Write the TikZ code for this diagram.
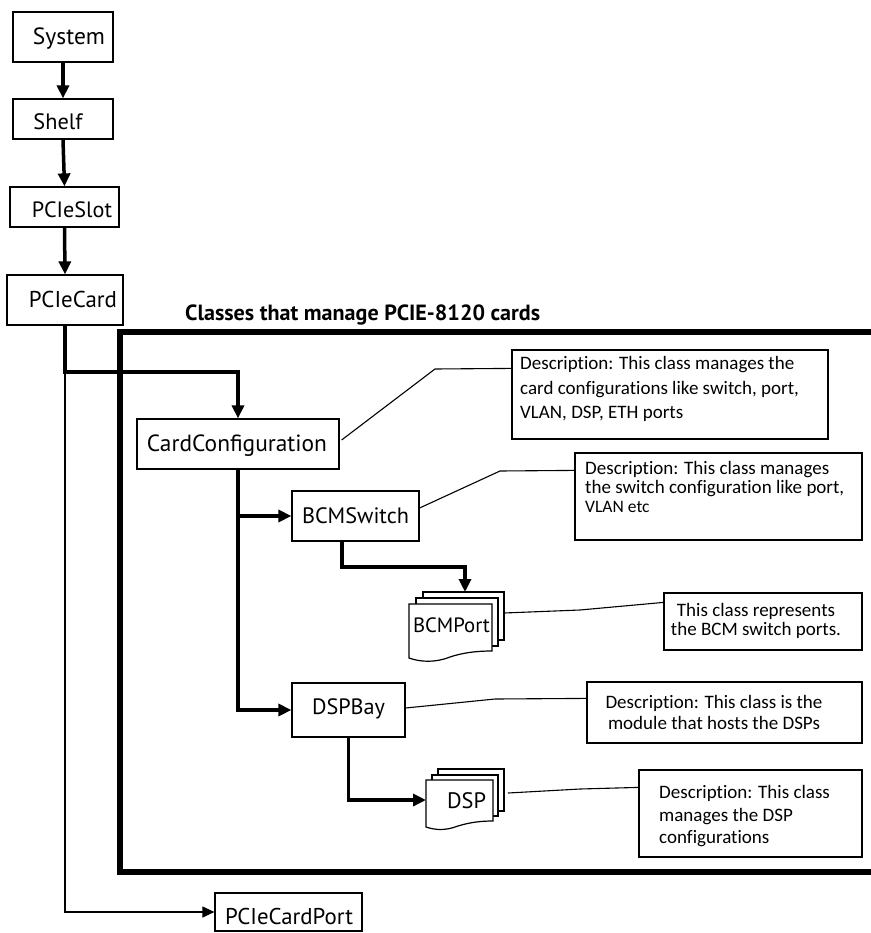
\documentclass[tikz,border=0pt]{standalone}
\usepackage{fontspec}
\setmainfont{Carlito}[Ligatures=NoCommon]
\newfontfamily\lblfont{PT Sans}
\usetikzlibrary{arrows.meta,calc}
\begin{document}
\begin{tikzpicture}[x=1pt,y=-1pt,
  cbox/.style={draw,line width=1.2pt,inner sep=0pt,fill=white},
  lbl/.style={anchor=base,inner sep=0pt,font=\lblfont},
  dtxt/.style={anchor=base west,inner sep=0pt,font=\fontsize{19}{21}\selectfont},
  dtxtc/.style={anchor=base,inner sep=0pt,font=\fontsize{19}{21}\selectfont},
  hier/.style={line width=3.5pt,-{Triangle[length=13pt,width=12pt]}},
  thinarr/.style={line width=1.2pt,-{Triangle[length=12pt,width=11pt]}},
  note/.style={line width=1.1pt},
  sheet/.style={draw,line width=1.2pt,fill=white,line join=miter},
]
\useasboundingbox (0,0) rectangle (870,933);
\fill[white] (0,0) rectangle (870,933);

% frame
\draw[line width=5.5pt,line join=miter] (890,332) -- (120,332) -- (120,872) -- (890,872);
\node[anchor=base west,inner sep=0pt,font=\fontsize{22}{24}\lblfont\bfseries] (ttl) at (185,320) {\resizebox{355pt}{\height}{Classes that manage PCIE-8120 cards}};

% class boxes
\node[cbox,minimum width=100pt,minimum height=50pt] (sys) at (63,37) {};
\node[cbox,minimum width=100pt,minimum height=40pt] (shelf) at (63,119) {};
\node[cbox,minimum width=109pt,minimum height=40pt] (slot) at (64.5,207) {};
\node[cbox,minimum width=116pt,minimum height=50pt] (card) at (65,300) {};
\node[cbox,minimum width=202pt,minimum height=50pt] (cfg) at (238,444) {};
\node[cbox,minimum width=127pt,minimum height=50pt] (sw) at (355.5,516) {};
\node[cbox,minimum width=113pt,minimum height=54pt] (bay) at (348.5,710) {};
\node[cbox,minimum width=147pt,minimum height=38pt] (port) at (288.5,912) {};

% multi-document shapes
\draw[sheet] (423,592) rectangle (504,640);
\draw[sheet] (416,598) rectangle (498,646);
\draw[sheet] (409,604) -- (492,604) -- (492,651) .. controls (475,651) and (462,653) .. (450,657) .. controls (435,663) and (420,662) .. (409,658) -- cycle;
\draw[sheet] (438,769) rectangle (504,811);
\draw[sheet] (432,775) rectangle (498,816);
\draw[sheet] (426,780) -- (493,780) -- (493,821) .. controls (478,821) and (468,823) .. (458,826) .. controls (445,831) and (435,830) .. (426,827) -- cycle;
\coordinate (bportin) at (465,592);
\coordinate (bportR) at (504,613);
\coordinate (dspin) at (426,800);
\coordinate (dspR) at (508,793);

% labels
\node[lbl] (sysT) at (69,45) {\resizebox{72pt}{!}{System}};
\node[lbl] (shelfT) at (58,130) {\resizebox{49pt}{!}{Shelf}};
\node[lbl] (slotT) at (72,218) {\resizebox{80pt}{!}{PCIeSlot}};
\node[lbl] (cardT) at (73,307) {\resizebox{88pt}{!}{PCIeCard}};
\node[lbl] (cfgT) at (237,451) {\resizebox{180pt}{!}{CardConfiguration}};
\node[lbl] (swT) at (355.5,523) {\resizebox{107pt}{!}{BCMSwitch}};
\node[lbl] (bayT) at (348.5,714) {\resizebox{73pt}{!}{DSPBay}};
\node[lbl] (bportT) at (451.5,632) {\resizebox{77pt}{!}{BCMPort}};
\node[lbl] (dspT) at (466.5,808) {\resizebox{39pt}{!}{DSP}};
\node[lbl] (portT) at (289,924) {\resizebox{128pt}{!}{PCIeCardPort}};

% hierarchy arrows
\coordinate (j1) at (65,372);
\draw[hier] (sys.south) -- (shelf.north);
\draw[hier] (shelf.south) -- (slot.north);
\draw[hier] (slot.south) -- (card.north);
\draw[hier] (card.south) -- (j1) -| (cfg.north);
\draw[thinarr] (j1) |- (port.west);
\draw[hier] (cfg.south) |- (sw.west);
\draw[hier] (cfg.south) |- (bay.west);
\coordinate (swout) at ($(sw.south)+(-13.5,0)$);
\draw[hier] (swout) -- (swout |- 0,567) -| (bportin);
\draw[hier] (bay.south) |- (dspin);

% description boxes
\node[cbox,minimum width=316pt,minimum height=89pt] (d1) at (670,394.5) {};
\node[cbox,minimum width=287pt,minimum height=87pt] (d2) at (718.5,496.5) {};
\node[cbox,minimum width=198pt,minimum height=57pt] (d3) at (763,621.5) {};
\node[cbox,minimum width=275pt,minimum height=61pt] (d4) at (724.5,712.5) {};
\node[cbox,minimum width=223pt,minimum height=87pt] (d5) at (750.5,813.5) {};

\node[dtxt] (d1a) at (520,369) {Description: This class manages the};
\node[dtxt] (d1b) at (520,394) {card configurations like switch, port,};
\node[dtxt] (d1c) at (520,418) {VLAN, DSP, ETH ports};
\node[dtxt] (d2a) at (585,474) {Description: This class manages};
\node[dtxt] (d2b) at (585,493) {the switch configuration like port,};
\node[dtxt,font=\fontsize{17.5}{19}\selectfont] (d2c) at (585,512) {VLAN etc};
\node[dtxtc] (d3a) at (756,616) {This class represents};
\node[dtxtc] (d3b) at (756,635) {the BCM switch ports.};
\node[dtxtc] (d4a) at (714,708) {Description: This class is the};
\node[dtxtc] (d4b) at (714,729) {module that hosts the DSPs};
\node[dtxt] (d5a) at (659,798) {Description: This class};
\node[dtxt] (d5b) at (659,821) {manages the DSP};
\node[dtxt] (d5c) at (659,843) {configurations};

% note connectors
\draw[note] ($(cfg.east)+(2,-4)$) -- (435,369) -- ($(d1.north west)+(0,19)$);
\draw[note] ($(sw.east)+(0,-8)$) -- (500,471) -- ($(d2.north west)+(0,18)$);
\draw[note] (bportR) -- (580,610) -- ($(d3.north west)+(0,10)$);
\draw[note] ($(bay.east)+(0,-2)$) -- (495,699) -- ($(d4.north west)+(0,17)$);
\draw[note] (dspR) -- (580,789) -- ($(d5.north west)+(0,18)$);
\end{tikzpicture}
\end{document}
